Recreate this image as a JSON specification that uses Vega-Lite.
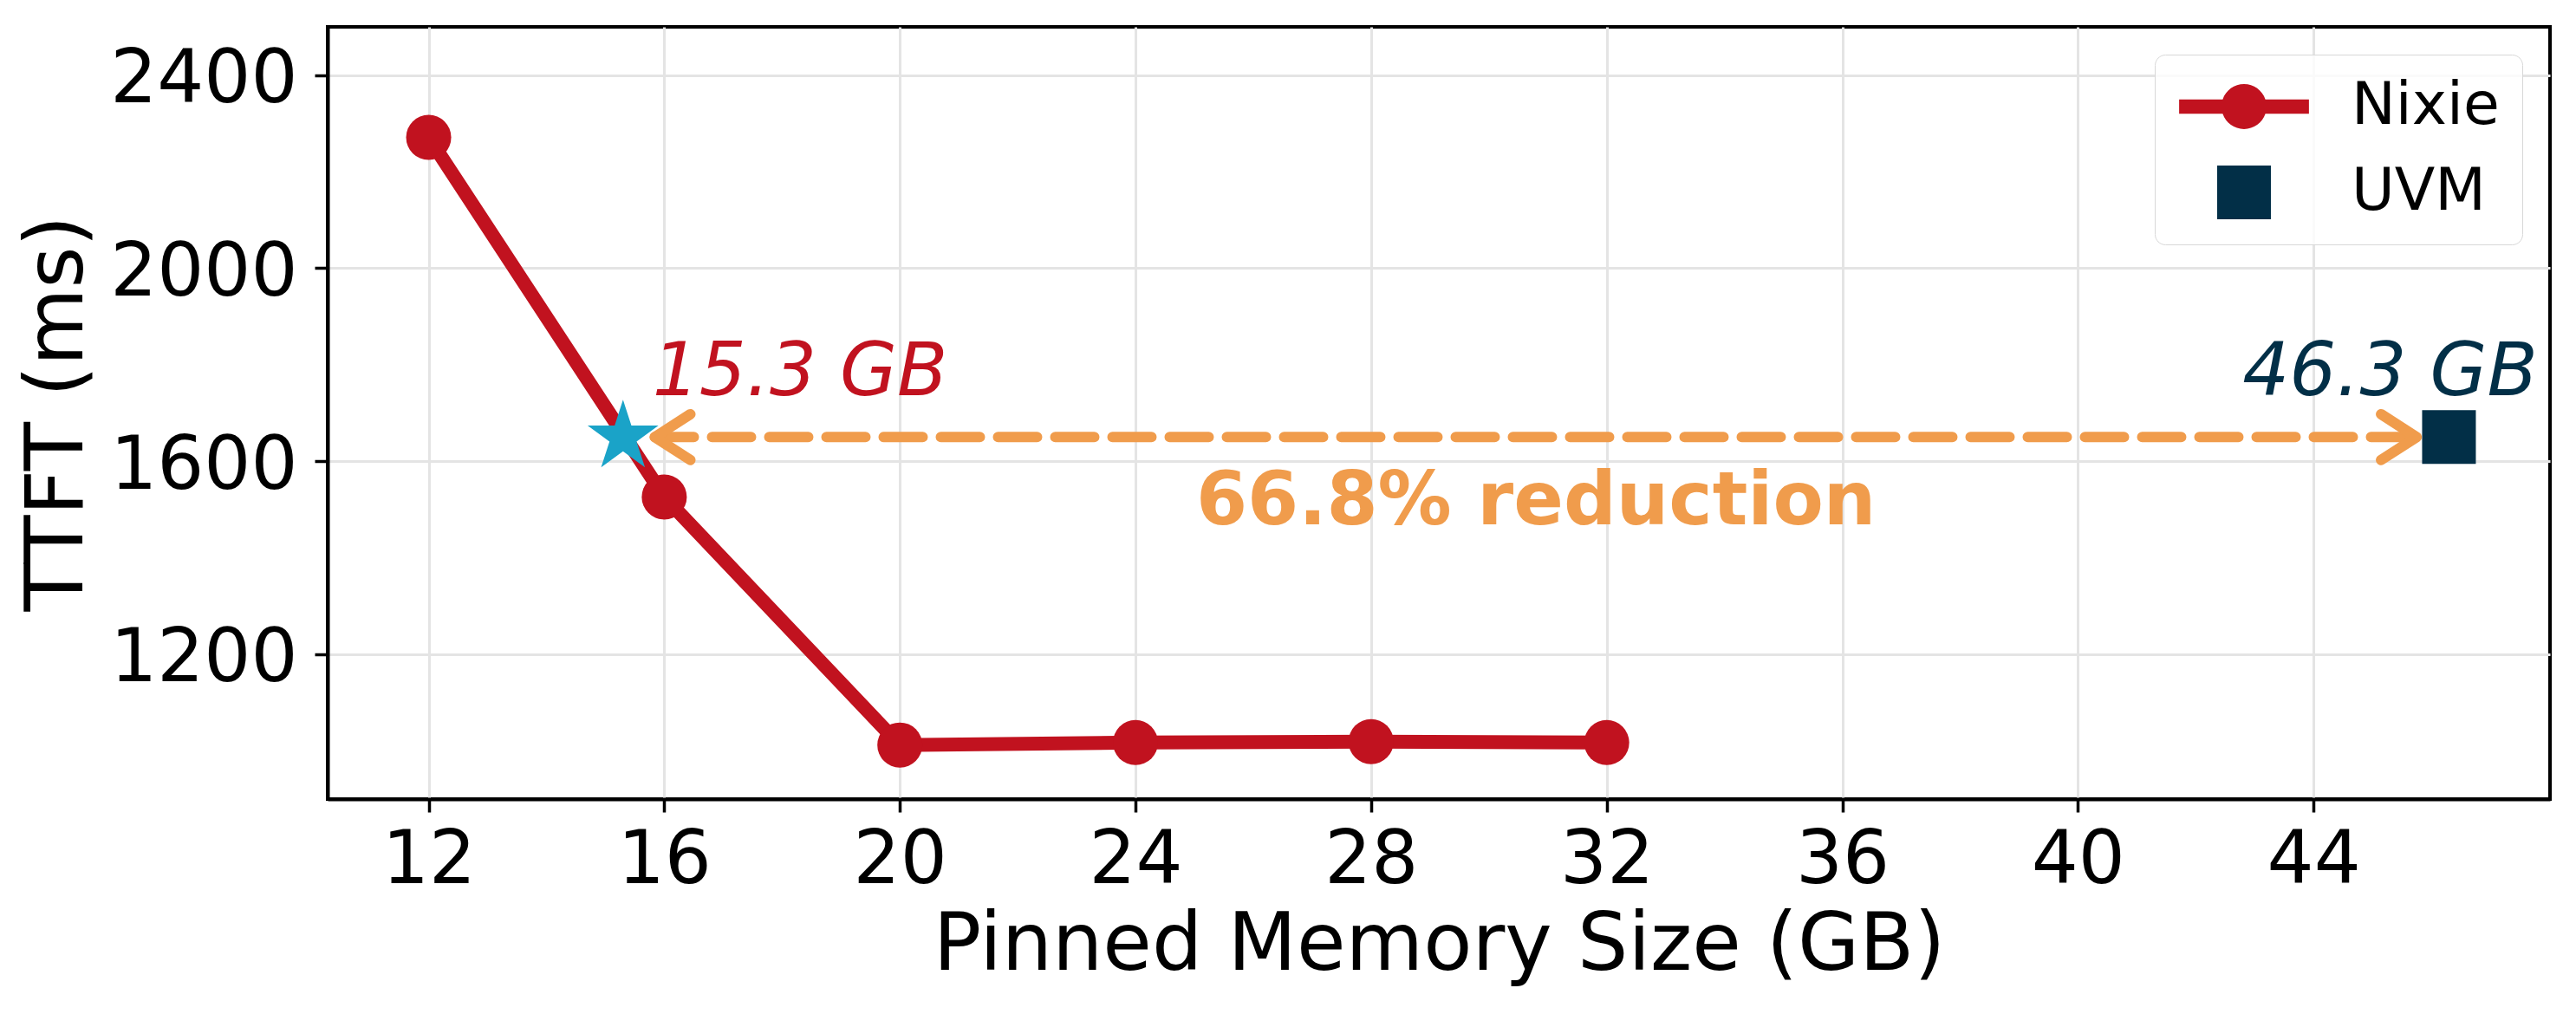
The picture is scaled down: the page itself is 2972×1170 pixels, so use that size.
{
  "$schema": "https://vega.github.io/schema/vega-lite/v6.json",
  "width": 2564,
  "height": 891,
  "autosize": {"type": "none"},
  "padding": {"left": 378, "top": 31, "right": 30, "bottom": 248},
  "background": "white",
  "data": {"values": [
    {"kind": "nixie", "x": 12, "y": 2271},
    {"kind": "nixie", "x": 16, "y": 1526},
    {"kind": "nixie", "x": 20, "y": 1012},
    {"kind": "nixie", "x": 24, "y": 1017},
    {"kind": "nixie", "x": 28, "y": 1019},
    {"kind": "nixie", "x": 32, "y": 1017},
    {"kind": "uvm", "series": "UVM", "x": 46.3, "y": 1650},
    {"kind": "star", "x": 15.3, "y": 1650},
    {"kind": "arrow", "x": 15.84, "x2": 45.75, "y": 1650},
    {"kind": "headL", "x": 15.84, "y": 1650},
    {"kind": "headR", "x": 45.75, "y": 1650},
    {"kind": "lab15", "x": 15.8, "y": 1737, "label": "15.3 GB"},
    {"kind": "lab46", "x": 45.3, "y": 1737, "label": "46.3 GB"},
    {"kind": "red", "x": 30.8, "y": 1470, "label": "66.8% reduction"}
  ]},
  "encoding": {
    "x": {"field": "x", "type": "quantitative",
      "scale": {"domain": [10.285, 48.015], "nice": false, "zero": false},
      "axis": {"values": [12, 16, 20, 24, 28, 32, 36, 40, 44], "format": "d", "title": "Pinned Memory Size (GB)", "labelPadding": 14, "titlePadding": 10}},
    "y": {"field": "y", "type": "quantitative",
      "scale": {"domain": [900, 2500], "nice": false, "zero": false},
      "axis": {"values": [1200, 1600, 2000, 2400], "format": "d", "title": "TTFT (ms)", "labelPadding": 20, "titlePadding": 65, "labelOffset": 5}}
  },
  "layer": [
    {"transform": [{"filter": "datum.kind === 'nixie'"}],
     "mark": {"type": "line", "color": "#c1121f", "strokeWidth": 16}},
    {"transform": [{"filter": "datum.kind === 'nixie'"}],
     "mark": {"type": "point", "filled": true, "shape": "circle", "size": 2704, "color": "#c1121f", "opacity": 1}},
    {"transform": [{"filter": "datum.kind === 'uvm'"}],
     "mark": {"type": "point", "filled": true, "size": 2704, "opacity": 1},
     "encoding": {
       "color": {"field": "series", "type": "nominal",
         "scale": {"domain": ["Nixie", "UVM"], "range": ["#c1121f", "#022f47"]},
         "legend": {"title": null, "orient": "top-right", "offset": 32, "padding": 26, "symbolOffset": 43, "labelOffset": 90, "rowPadding": 31, "symbolSize": 2704, "symbolStrokeWidth": 0, "labelFont": "DejaVu Sans", "labelFontSize": 68, "labelColor": "black", "labelLimit": 0, "strokeColor": "#d8d8d8", "cornerRadius": 12, "fillColor": "rgba(255,255,255,0.8)"}},
       "shape": {"field": "series", "type": "nominal",
         "scale": {"domain": ["Nixie", "UVM"], "range": ["M-2.88,-0.32L-0.947,-0.32A1,1 0 0 1 0.947,-0.32L2.88,-0.32L2.88,0.32L0.947,0.32A1,1 0 0 1 -0.947,0.32L-2.88,0.32Z", "M-1.192,-1.192L1.192,-1.192L1.192,1.192L-1.192,1.192Z"]}}
     }},
    {"transform": [{"filter": "datum.kind === 'star'"}],
     "mark": {"type": "point", "filled": true, "size": 7396, "color": "#1aa3c8", "opacity": 1,
       "shape": "M0,-1L0.2245,-0.309L0.951,-0.309L0.3633,0.118L0.588,0.809L0,0.382L-0.588,0.809L-0.3633,0.118L-0.951,-0.309L-0.2245,-0.309Z"}},
    {"transform": [{"filter": "datum.kind === 'arrow'"}],
     "mark": {"type": "rule", "color": "#f09c4c", "strokeWidth": 12, "strokeDash": [45, 21], "strokeCap": "round"},
     "encoding": {"x2": {"field": "x2"}}},
    {"transform": [{"filter": "datum.kind === 'headL'"}],
     "mark": {"type": "point", "filled": false, "size": 6724, "color": "#f09c4c", "opacity": 1, "strokeWidth": 12, "strokeCap": "round", "strokeJoin": "round",
       "shape": "M1,-0.645L0,0L1,0.645"}},
    {"transform": [{"filter": "datum.kind === 'headR'"}],
     "mark": {"type": "point", "filled": false, "size": 6724, "color": "#f09c4c", "opacity": 1, "strokeWidth": 12, "strokeCap": "round", "strokeJoin": "round",
       "shape": "M-1,-0.645L0,0L-1,0.645"}},
    {"transform": [{"filter": "datum.kind === 'lab15'"}],
     "mark": {"type": "text", "align": "left", "baseline": "alphabetic", "font": "DejaVu Sans", "fontStyle": "italic", "fontSize": 85, "color": "#c1121f"},
     "encoding": {"text": {"field": "label"}}},
    {"transform": [{"filter": "datum.kind === 'lab46'"}],
     "mark": {"type": "text", "align": "center", "baseline": "alphabetic", "font": "DejaVu Sans", "fontStyle": "italic", "fontSize": 85, "color": "#022f47"},
     "encoding": {"text": {"field": "label"}}},
    {"transform": [{"filter": "datum.kind === 'red'"}],
     "mark": {"type": "text", "align": "center", "baseline": "alphabetic", "font": "DejaVu Sans", "fontWeight": "bold", "fontSize": 85, "color": "#f09c4c"},
     "encoding": {"text": {"field": "label"}}}
  ],
  "config": {
    "view": {"stroke": "black", "strokeWidth": 4},
    "axis": {
      "labelFont": "DejaVu Sans", "labelFontSize": 85, "labelColor": "black", "labelLimit": 0,
      "titleFont": "DejaVu Sans", "titleFontSize": 92, "titleFontWeight": "normal", "titleColor": "black", "titleLimit": 0,
      "tickColor": "black", "tickWidth": 3.5, "tickSize": 15,
      "domainColor": "black", "domainWidth": 4,
      "gridColor": "#e4e4e4", "gridWidth": 3,
      "labelFlush": false, "labelOverlap": false
    }
  }
}
